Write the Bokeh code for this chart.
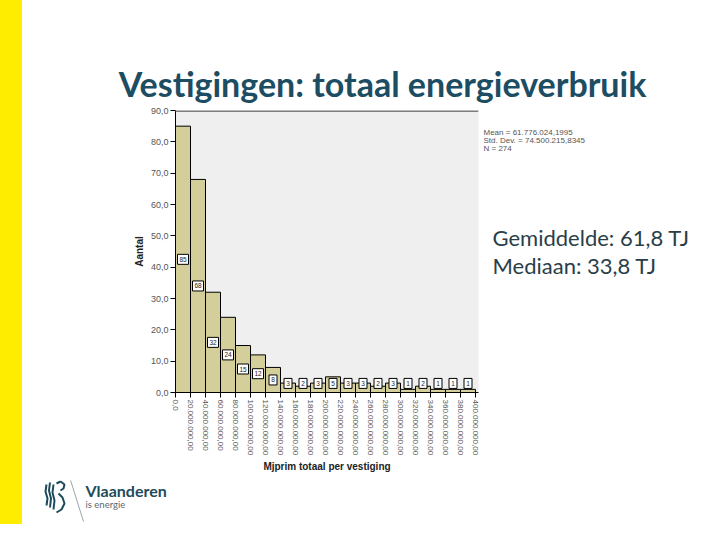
import math
from bokeh.plotting import figure
from bokeh.layouts import column, row
from bokeh.models import (ColumnDataSource, FixedTicker, Label, Span,
                          BoxAnnotation, Range1d)
from bokeh.core.properties import value
from bokeh.embed import file_html
from bokeh.resources import INLINE

# ---- data ----
bin_width = 20000000
bin_starts = [0, 20000000, 40000000, 60000000, 80000000, 100000000, 120000000,
              140000000, 160000000, 180000000, 200000000, 220000000, 240000000,
              260000000, 280000000, 300000000, 320000000, 340000000, 360000000,
              380000000]
counts = [85, 68, 32, 24, 15, 12, 8, 3, 2, 3, 5, 3, 3, 2, 3, 1, 2, 1, 1, 1]

x_ticks = [0, 20000000, 40000000, 60000000, 80000000, 100000000, 120000000,
           140000000, 160000000, 180000000, 200000000, 220000000, 240000000,
           260000000, 280000000, 300000000, 320000000, 340000000, 360000000,
           380000000, 400000000]
x_tick_labels = ["0,0", "20.000.000,00", "40.000.000,00", "60.000.000,00",
                 "80.000.000,00", "100.000.000,00", "120.000.000,00",
                 "140.000.000,00", "160.000.000,00", "180.000.000,00",
                 "200.000.000,00", "220.000.000,00", "240.000.000,00",
                 "260.000.000,00", "280.000.000,00", "300.000.000,00",
                 "320.000.000,00", "340.000.000,00", "360.000.000,00",
                 "380.000.000,00", "400.000.000,00"]
y_ticks = [0, 10, 20, 30, 40, 50, 60, 70, 80, 90]
y_tick_labels = ["0,0", "10,0", "20,0", "30,0", "40,0", "50,0", "60,0",
                 "70,0", "80,0", "90,0"]

title_text = "Vestigingen: totaal energieverbruik"
stats_lines = ["Mean = 61.776.024,1995", "Std. Dev. = 74.500.215,8345", "N = 274"]
summary_lines = ["Gemiddelde: 61,8 TJ", "Mediaan: 33,8 TJ"]
x_title = "Mjprim totaal per vestiging"
y_title = "Aantal"
logo_name = "Vlaanderen"
logo_tagline = "is energie"

YELLOW = "#ffed00"
TEAL = "#1c4d63"
LOGO = "#1d4b5b"


def canvas_fig(w, h, x0, x1, y0, y1, **kw):
    """A plain drawing surface; data units are page pixels (y down)."""
    f = figure(width=w, height=h, output_backend="svg", toolbar_location=None,
               x_range=Range1d(x0, x1), y_range=Range1d(y1, y0),
               x_axis_type=None, y_axis_type=None, **kw)
    f.outline_line_color = None
    f.background_fill_color = "white"
    f.border_fill_color = "white"
    return f


NOB = dict(min_border_left=0, min_border_right=0, min_border_top=0,
           min_border_bottom=0)

# ---- yellow strip along the left edge (full height) ----
strip = figure(width=22, height=524, output_backend="svg", toolbar_location=None,
               x_axis_type=None, y_axis_type=None, **NOB)
strip.background_fill_color = YELLOW
strip.border_fill_color = YELLOW
strip.outline_line_color = YELLOW
strip.outline_line_width = 2

# ---- top: title ----
top = canvas_fig(682, 104, 22, 704, 0, 104, **NOB)
top.add_layout(Label(x=382, y=82.5, text=title_text, text_align="center",
                     text_baseline="alphabetic", text_font="Lato",
                     text_font_style="bold", text_font_size="34px",
                     text_color=TEAL))

# ---- middle row: histogram + side texts ----
M_H = 376
BORDERS = dict(min_border_top=6, min_border_bottom=88)

hist = figure(width=458, height=M_H, output_backend="svg", toolbar_location=None,
              x_range=Range1d(0, 404000000), y_range=Range1d(0, 90),
              min_border_left=153, min_border_right=2, **BORDERS)
hist.background_fill_color = "#efefef"
hist.border_fill_color = "white"
hist.outline_line_color = None
hist.xgrid.grid_line_color = None
hist.ygrid.grid_line_color = None

bar_src = ColumnDataSource(dict(
    left=bin_starts,
    right=[b + bin_width for b in bin_starts],
    top=counts,
    xc=[b + bin_width / 2 for b in bin_starts],
    ylab=[max(c / 2, 2.9) for c in counts],
    txt=[str(c) for c in counts],
    boxw=[5 + 3 * len(str(c)) for c in counts],
))
hist.quad(left="left", right="right", bottom=0, top="top", source=bar_src,
          fill_color="#d4cf9a", line_color="black", line_width=1)
hist.rect(x="xc", y="ylab", width="boxw", height=10, width_units="screen",
          height_units="screen", source=bar_src, fill_color="white",
          line_color="black", line_width=1)
hist.text(x="xc", y="ylab", text="txt", source=bar_src, text_align="center",
          text_baseline="middle", text_font=value("Liberation Sans"),
          text_font_size="6.5px", text_color="#222222")
hist.add_layout(Span(location=90, dimension="width", line_color="#7d7d7d",
                     line_width=3))

for ax in (hist.xaxis[0], hist.yaxis[0]):
    ax.axis_line_color = "black"
    ax.major_tick_line_color = "black"
    ax.major_tick_in = 0
    ax.major_tick_out = 5
    ax.minor_tick_line_color = None
    ax.major_label_text_font = "Liberation Sans"
    ax.major_label_text_color = "#555555"
    ax.axis_label_text_font = "Liberation Sans"
    ax.axis_label_text_font_style = "bold"
    ax.axis_label_text_font_size = "10px"
    ax.axis_label_text_color = "#222222"

hist.xaxis.ticker = FixedTicker(ticks=x_ticks)
hist.xaxis.major_label_overrides = dict(zip(x_ticks, x_tick_labels))
hist.xaxis.major_label_orientation = -math.pi / 2
hist.xaxis.major_label_text_font_size = "8px"
hist.xaxis.major_label_standoff = 2
hist.xaxis.axis_label = x_title
hist.xaxis.axis_label_standoff = 3

hist.yaxis.ticker = FixedTicker(ticks=y_ticks)
hist.yaxis.major_label_overrides = dict(zip(y_ticks, y_tick_labels))
hist.yaxis.major_label_text_font_size = "9px"
hist.yaxis.major_label_standoff = 2
hist.yaxis.axis_label = y_title
hist.yaxis.axis_label_standoff = 3

# right panel: frame aligned with the histogram frame (page y 110..392)
right = canvas_fig(224, M_H, 480, 704, 110, 392, min_border_left=0,
                   min_border_right=0, **BORDERS)
for i, line in enumerate(stats_lines):
    right.add_layout(Label(x=483, y=131.5 + 8.3 * i, text=line,
                           text_align="left", text_baseline="alphabetic",
                           text_font="Liberation Sans", text_font_size="8px",
                           text_color="#555555"))
for i, line in enumerate(summary_lines):
    right.add_layout(Label(x=492, y=236.5 + 28 * i, text=line,
                           text_align="left", text_baseline="alphabetic",
                           text_font="Lato", text_font_size="22px",
                           text_color="#2a3e48"))

# ---- bottom: logo ----
bottom = canvas_fig(682, 44, 22, 704, 480, 524, **NOB)
bottom.add_layout(Label(x=85, y=490, text=logo_name, text_align="left",
                        text_baseline="alphabetic", text_font="Lato",
                        text_font_style="bold", text_font_size="16px",
                        text_color=LOGO))
bottom.add_layout(Label(x=85, y=503.5, text=logo_tagline, text_align="left",
                        text_baseline="alphabetic", text_font="Lato",
                        text_font_size="9.5px", text_color="#5a6a72"))
bottom.line(x=[67, 83], y=[470, 521], line_color="#9aa5aa", line_width=1)
bottom.multi_line(
    xs=[[46, 45, 47, 46], [49.5, 48.5, 50.5, 49.5], [53, 52, 54, 53],
        [56, 60, 64, 63, 60], [58, 62, 64, 61, 56]],
    ys=[[484, 491, 498, 505], [482, 490, 498, 507], [484, 492, 500, 509],
        [483, 481, 484, 488, 490], [493, 497, 503, 509, 512]],
    line_color=LOGO, line_width=2)

layout = row(strip, column(top, row(hist, right), bottom))

open("out.html", "w").write(file_html(layout, INLINE))
